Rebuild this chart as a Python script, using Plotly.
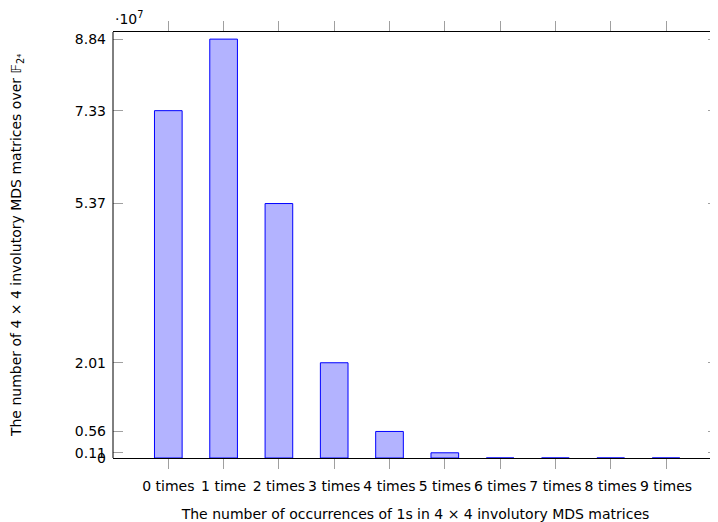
import plotly.graph_objects as go

categories = ["0 times", "1 time", "2 times", "3 times", "4 times",
              "5 times", "6 times", "7 times", "8 times", "9 times"]
values = [7.33e7, 8.84e7, 5.37e7, 2.01e7, 0.56e7, 0.11e7, 0.0, 0.0, 0.0, 0.0]
ytick_vals = [0, 0.11e7, 0.56e7, 2.01e7, 5.37e7, 7.33e7, 8.84e7]
ytick_text = ["0", "0.11", "0.56", "2.01", "5.37", "7.33", "8.84"]

positions = list(range(len(categories)))

font = dict(family="DejaVu Sans", size=14, color="black")

fig = go.Figure()
fig.add_trace(go.Bar(
    x=positions, y=values, width=0.5,
    marker=dict(color="rgb(179,179,255)", line=dict(color="rgb(0,0,255)", width=1)),
    hoverinfo="skip",
))

# page body has an 8px default margin; the figure is sized to fill the rest
fig.update_layout(
    width=710, height=514,
    margin=dict(l=105, r=0, t=24, b=64, autoexpand=False),
    plot_bgcolor="white", paper_bgcolor="white",
    font=font, showlegend=False,
    xaxis=dict(
        range=[-1, 9.94], tickmode="array", tickvals=positions, ticktext=categories,
        ticks="outside", ticklen=10, tickcolor="#a0a0a0", tickwidth=1,
        showline=True, linecolor="black", linewidth=1, mirror="allticks",
        showgrid=False, zeroline=False, automargin=False, ticklabelstandoff=5,
        title=dict(text="The number of occurrences of 1s in 4 × 4 involutory MDS matrices",
                   font=dict(size=14), standoff=18),
    ),
    yaxis=dict(
        range=[0, 8.99e7], tickmode="array", tickvals=ytick_vals, ticktext=ytick_text,
        ticks="inside", ticklen=10, tickcolor="#a0a0a0", tickwidth=1,
        showline=False, mirror="allticks",
        showgrid=False, zeroline=False, ticklabelstandoff=6, automargin=False,
        title=dict(text="The number of 4 × 4 involutory MDS matrices over 𝔽<sub>2⁴</sub>",
                   font=dict(size=14), standoff=49),
    ),
    shapes=[dict(type="line", xref="paper", yref="paper", x0=0, x1=0, y0=0, y1=1,
                 line=dict(color="black", width=1))],
    annotations=[dict(text="·10<sup>7</sup>", xref="paper", yref="paper", x=0, y=1,
                      xanchor="left", yanchor="bottom", yshift=3, showarrow=False,
                      font=dict(size=14))],
)

fig.write_html("out.html")
